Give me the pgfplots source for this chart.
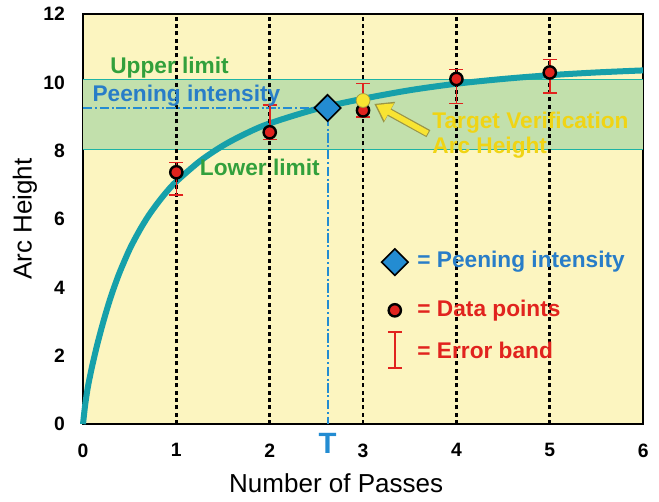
\documentclass[border=0pt]{standalone}
\usepackage{pgfplots}
\pgfplotsset{compat=1.18}
\usepackage{fontspec}
\setmainfont{Liberation Sans}
\usetikzlibrary{arrows.meta}

\definecolor{bgyel}{RGB}{252,245,192}
\definecolor{bandgr}{RGB}{194,224,172}
\definecolor{limteal}{RGB}{30,180,165}
\definecolor{curveteal}{RGB}{22,160,170}
\definecolor{pblue}{RGB}{35,140,210}
\definecolor{ptext}{RGB}{40,125,200}
\definecolor{dred}{RGB}{225,35,30}
\definecolor{yelpt}{RGB}{248,228,50}
\definecolor{yeltext}{RGB}{240,212,20}
\definecolor{gtext}{RGB}{50,160,60}

\pgfplotstableread{
x y ep em
1 7.37 0.29 0.67
2 8.54 0.79 0.21
3 9.18 0.79 0.20
4 10.10 0.28 0.72
5 10.29 0.38 0.61
}\datapts

\begin{document}
\begin{tikzpicture}
\begin{axis}[
    scale only axis,
    width=420pt, height=307.5pt,
    xmin=0, xmax=6, ymin=0, ymax=12,
    xtick={0,1,...,6}, ytick={0,2,...,12},
    axis background/.style={fill=bgyel},
    axis line style={line width=1.5pt, black},
    major tick length=0pt,
    clip=false,
    /pgf/number format/assume math mode=true,
    ticklabel style={font=\bfseries\fontsize{14.5}{17}\selectfont},
    xticklabel style={yshift=-11pt},
    yticklabel style={xshift=-10pt},
    xlabel={Number of Passes},
    ylabel={Arc Height},
    label style={font=\fontsize{19.5}{22}\selectfont},
    xlabel style={at={(axis description cs:0.452,-0.144)}, anchor=center},
    ylabel style={at={(axis description cs:-0.1036,0.5)}, anchor=center},
  ]
  % acceptance band
  \addplot[fill=bandgr, draw=none] coordinates {(0,8.03) (6,8.03) (6,10.08) (0,10.08)} -- cycle;
  \addplot[limteal, line width=1.1pt] coordinates {(0,8.03) (6,8.03)};
  \addplot[limteal, line width=1.1pt] coordinates {(0,10.08) (6,10.08)};

  % saturation curve
  \addplot[curveteal, line width=4.5pt, smooth] coordinates {
    (0,0) (0.01,0.25) (0.025,0.6) (0.05,1.05) (0.075,1.4) (0.1,1.72)
    (0.15,2.3) (0.2,2.82) (0.25,3.3) (0.3,3.74) (0.35,4.13) (0.4,4.49)
    (0.5,5.12) (0.6,5.64) (0.7,6.09) (0.8,6.47) (0.9,6.81) (1.0,7.1)
    (1.25,7.69) (1.5,8.15) (1.75,8.51) (2.0,8.8) (2.5,9.22) (3.0,9.52)
    (3.5,9.77) (4,9.96) (4.5,10.1) (5,10.21) (5.5,10.29) (6,10.35)
  };

  % vertical pass lines
  \pgfplotsinvokeforeach{1,2,3,4,5}{
    \addplot[black, line width=2pt, dash pattern=on 3pt off 2.5pt] coordinates {(#1,0) (#1,12)};
  }

  % peening intensity construction lines
  \addplot[pblue, line width=1.5pt, dash pattern=on 7pt off 2pt on 1.5pt off 2pt] coordinates {(0,9.25) (2.5,9.25)};
  \addplot[pblue, line width=1.5pt, dash pattern=on 7pt off 2pt on 1.5pt off 2pt] coordinates {(2.62,9.0) (2.62,0)};

  % error bars and data points
  \addplot[draw=none, mark=none, forget plot,
    error bars/.cd, y dir=both, y explicit,
    error bar style={dred, line width=1.2pt},
    error mark options={dred, line width=1.2pt, mark size=5.25pt, rotate=90}]
    table[x=x, y=y, y error plus=ep, y error minus=em] {\datapts};
  \addplot[only marks, mark=*, mark size=4.6pt,
    mark options={fill=dred, draw=black, line width=1.8pt}]
    table[x=x, y=y] {\datapts};

  % target verification point
  \addplot[only marks, mark=*, mark size=5.2pt,
    mark options={fill=yelpt, draw=yellow!60!black, line width=0.6pt}]
    coordinates {(3,9.47)};

  % peening intensity diamond
  \addplot[only marks, mark=square*, mark size=7pt,
    mark options={rotate=45, fill=pblue, draw=black, line width=1.2pt}]
    coordinates {(2.62,9.25)};

  % legend symbols
  \addplot[only marks, mark=square*, mark size=7pt,
    mark options={rotate=45, fill=pblue, draw=black, line width=1.2pt}]
    coordinates {(3.34,4.74)};
  \addplot[only marks, mark=*, mark size=4.6pt,
    mark options={fill=dred, draw=black, line width=1.8pt}]
    coordinates {(3.34,3.33)};
  \addplot[draw=none, mark=none,
    error bars/.cd, y dir=both, y explicit,
    error bar style={dred, line width=1.2pt},
    error mark options={dred, line width=1.2pt, mark size=5.25pt, rotate=90}]
    coordinates {(3.34,2.165) +- (0,0.525)};

  % arrow to target point
  \draw[yellow!55!black, line width=6pt, -{Triangle[length=13pt, width=17pt]}]
    (axis cs:3.7,8.5) -- (axis cs:3.12,9.37);
  \draw[yelpt, line width=4.2pt, -{Triangle[length=11pt, width=14pt]}, shorten >=1pt]
    (axis cs:3.69,8.51) -- (axis cs:3.13,9.36);

  % annotations
  \begin{scope}[every node/.style={inner sep=0pt, anchor=west, font=\bfseries\fontsize{17}{20}\selectfont}]
    \node[text=gtext] at (axis cs:0.29,10.43) {Upper limit};
    \node[text=ptext] at (axis cs:0.1,9.6) {Peening intensity};
    \node[text=gtext] at (axis cs:1.25,7.5) {Lower limit};
    \node[text=yeltext] at (axis cs:3.74,8.83) {Target Verification};
    \node[text=yeltext] at (axis cs:3.74,8.1) {Arc Height};
    \node[text=ptext] at (axis cs:3.58,4.74) {= Peening intensity};
    \node[text=dred] at (axis cs:3.58,3.33) {= Data points};
    \node[text=dred] at (axis cs:3.58,2.16) {= Error band};
  \end{scope}
  \node[text=pblue, font=\bfseries\fontsize{22}{24}\selectfont, anchor=north, inner sep=0pt]
    at (axis cs:2.62,-0.27) {T};

  \coordinate (bbsw) at (axis cs:-0.889,-2.25);
  \coordinate (bbne) at (axis cs:6.17,12.41);
\end{axis}
\pgfresetboundingbox
\path[use as bounding box] (bbsw) rectangle (bbne);
\end{tikzpicture}
\end{document}
